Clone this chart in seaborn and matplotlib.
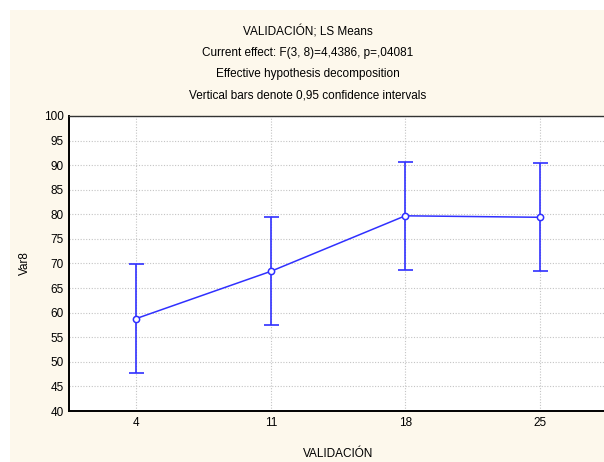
import matplotlib
matplotlib.use("Agg")
import matplotlib.pyplot as plt
import seaborn as sns
import pandas as pd
from matplotlib.patches import Rectangle

# LS means of Var8 by VALIDACIÓN level, with 95% confidence limits
levels = ["4", "11", "18", "25"]
means = [58.8, 68.4, 79.7, 79.4]
lower = [47.8, 57.4, 68.7, 68.4]
upper = [69.8, 79.4, 90.6, 90.4]
y_ticks = [40, 45, 50, 55, 60, 65, 70, 75, 80, 85, 90, 95, 100]

title_lines = [
    "VALIDACIÓN; LS Means",
    "Current effect: F(3, 8)=4,4386, p=,04081",
    "Effective hypothesis decomposition",
    "Vertical bars denote 0,95 confidence intervals",
]

sns.set_theme(style="white")
plt.rcParams["font.family"] = ["Liberation Sans", "DejaVu Sans"]

W, H = 604, 462
fig = plt.figure(figsize=(W / 100, H / 100), dpi=100)
fig.patch.set_facecolor("white")
# cream panel inside a thin white margin
fig.patches.append(Rectangle((10 / W, -0.1), 1.2, 1.1 - 10 / H, transform=fig.transFigure,
                             facecolor="#fdf8ec", edgecolor="none", zorder=-5))

left, right, top, bottom = 69, 607, 116, 411
ax = fig.add_axes([left / W, 1 - bottom / H, (right - left) / W, (bottom - top) / H])
ax.set_zorder(2)
ax.set_facecolor("white")

df = pd.DataFrame({"level": levels, "pos": range(len(levels)), "mean": means,
                   "lo": lower, "hi": upper})

blue = "#3030ff"
ax.errorbar(df["pos"], df["mean"],
            yerr=[df["mean"] - df["lo"], df["hi"] - df["mean"]],
            fmt="none", ecolor=blue, elinewidth=1.2, capsize=5.4, capthick=1.2, zorder=3)
sns.lineplot(data=df, x="pos", y="mean", ax=ax, color=blue, linewidth=1.1,
             marker="o", markersize=4.5, markerfacecolor="white",
             markeredgecolor=blue, markeredgewidth=1.1, zorder=4)

ax.set_xlim(-0.5, len(levels) - 0.5)
ax.set_ylim(40, 100)
ax.set_xticks(range(len(levels)))
ax.set_xticklabels(levels)
ax.set_yticks(y_ticks)
ax.tick_params(axis="both", length=0, labelsize=8.5, colors="black", pad=4)
ax.grid(True, color="#c4c4c4", linestyle=(0, (1, 1.5)), linewidth=0.8)
ax.set_axisbelow(True)

for side in ["left", "bottom"]:
    ax.spines[side].set_color("black")
    ax.spines[side].set_linewidth(1.4)
ax.spines["top"].set_color("#333333")
ax.spines["top"].set_linewidth(1.0)
ax.spines["right"].set_visible(False)

ax.set_xlabel("VALIDACIÓN", fontsize=8.5, color="black", labelpad=14)
ax.set_ylabel("Var8", fontsize=8.5, color="black", labelpad=9)

for i, line in enumerate(title_lines):
    fig.text(0.51, 1 - (32 + 21 * i) / H, line, ha="center", va="center",
             fontsize=8.5, color="black")

fig.savefig("out.png", dpi=100)
